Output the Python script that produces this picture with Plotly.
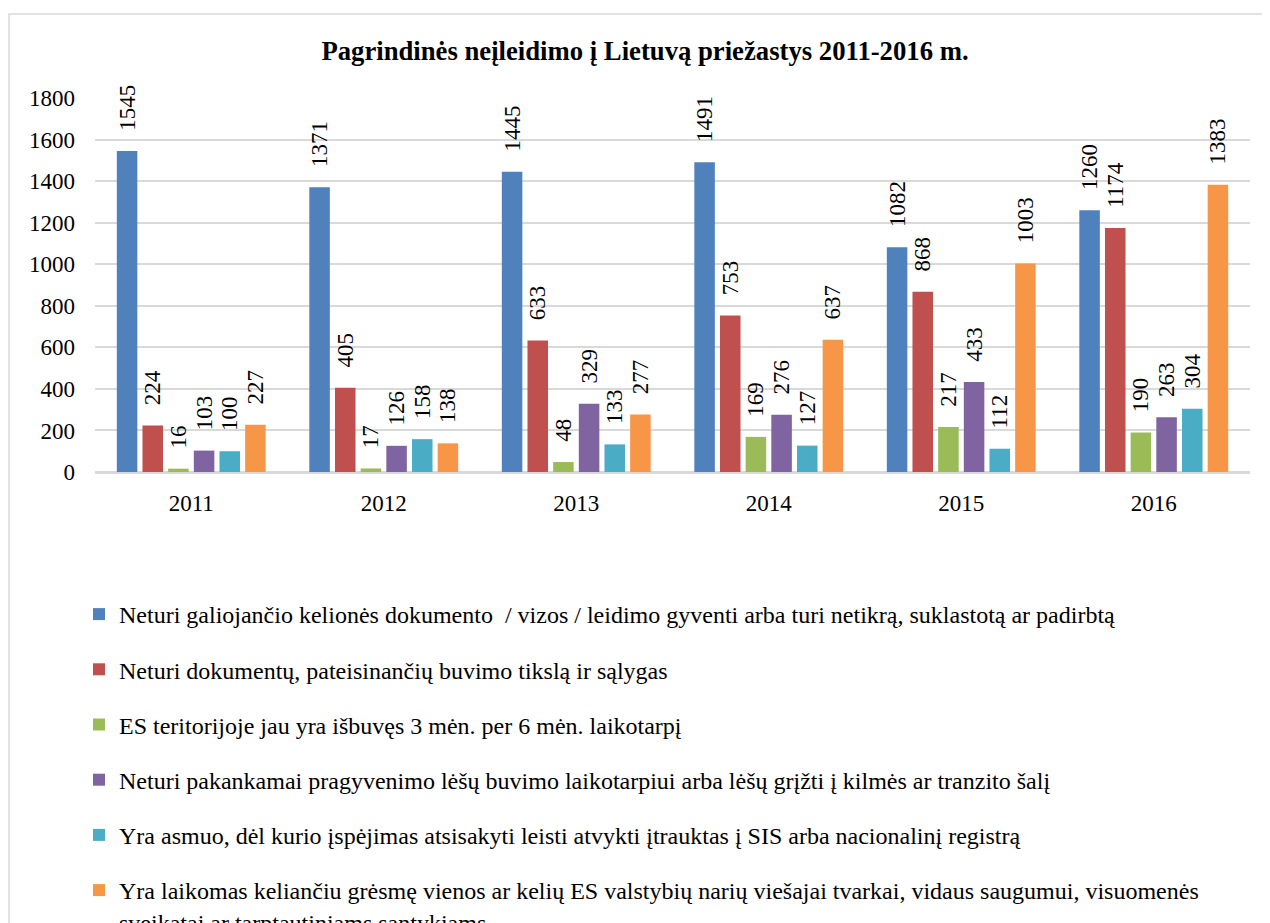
import plotly.graph_objects as go

years = ["2011", "2012", "2013", "2014", "2015", "2016"]
series_names = [
    "Neturi galiojančio kelionės dokumento  / vizos / leidimo gyventi arba turi netikrą, suklastotą ar padirbtą",
    "Neturi dokumentų, pateisinančių buvimo tikslą ir sąlygas",
    "ES teritorijoje jau yra išbuvęs 3 mėn. per 6 mėn. laikotarpį",
    "Neturi pakankamai pragyvenimo lėšų buvimo laikotarpiui arba lėšų grįžti į kilmės ar tranzito šalį",
    "Yra asmuo, dėl kurio įspėjimas atsisakyti leisti atvykti įtrauktas į SIS arba nacionalinį registrą",
    "Yra laikomas keliančiu grėsmę vienos ar kelių ES valstybių narių viešajai tvarkai, vidaus saugumui, visuomenės<br>sveikatai ar tarptautiniams santykiams",
]
s1 = [1545, 1371, 1445, 1491, 1082, 1260]
s2 = [224, 405, 633, 753, 868, 1174]
s3 = [16, 17, 48, 169, 217, 190]
s4 = [103, 126, 329, 276, 433, 263]
s5 = [100, 158, 133, 127, 112, 304]
s6 = [227, 138, 277, 637, 1003, 1383]
colors = ["#4F81BD", "#C0504D", "#9BBB59", "#8064A2", "#4BACC6", "#F79646"]
y_ticks = [0, 200, 400, 600, 800, 1000, 1200, 1400, 1600, 1800]

FONT = "Liberation Serif"
W, H = 1262, 915
L, R, T, B = 87, 20, 90, 451
PW = W - L - R
PH = H - T - B

fig = go.Figure()
for i, (name, vals) in enumerate(zip(series_names, [s1, s2, s3, s4, s5, s6])):
    fig.add_trace(go.Bar(
        x=years, y=vals, name=name,
        marker=dict(color=colors[i], line=dict(width=0)),
        texttemplate="\u00a0\u00a0\u00a0%{y}",
        textposition="outside", textangle=-90, constraintext="none",
        textfont=dict(family=FONT, size=23, color="#000000"),
        cliponaxis=False,
        legendgroup=f"g{i}",
    ))

fig.update_layout(
    width=W, height=H,
    paper_bgcolor="white", plot_bgcolor="white",
    margin=dict(l=L, r=R, t=T, b=B, autoexpand=False),
    barmode="group", bargap=0.2, bargroupgap=0.2,
    font=dict(family=FONT, color="#000000"),
    title=dict(
        text="<b>Pagrindinės neįleidimo į Lietuvą priežastys 2011-2016 m.</b>",
        x=(637 - L) / PW, xanchor="center", xref="paper",
        y=1 - 43 / H, yref="container", yanchor="middle",
        font=dict(family=FONT, size=26.7, color="#000000"),
    ),
    xaxis=dict(
        showgrid=False, showline=True, linecolor="#D9D9D9", linewidth=1.5,
        tickfont=dict(family=FONT, size=23), ticks="", ticklen=0, ticklabelstandoff=10,
    ),
    yaxis=dict(
        range=[0, 1800], tickvals=y_ticks, showgrid=True, gridcolor="#D9D9D9", gridwidth=1.5,
        zeroline=True, zerolinecolor="#D9D9D9", zerolinewidth=1.5,
        showline=False, tickfont=dict(family=FONT, size=23), ticks="", ticklen=0,
        ticklabelstandoff=19,
    ),
    legend=dict(
        orientation="v", x=-16 / PW, xanchor="left", y=-120 / PH, yanchor="top",
        font=dict(family=FONT, size=24, color="#000000"),
        traceorder="grouped", tracegroupgap=21, itemwidth=30, valign="top",
        bgcolor="rgba(0,0,0,0)",
    ),
    showlegend=True,
)

fig.add_shape(type="rect", xref="paper", yref="paper",
              x0=(1 - L) / PW, x1=(1259 - L) / PW,
              y0=-3, y1=(PH + T - 6) / PH,
              line=dict(color="#D9D9D9", width=1.5), fillcolor="rgba(0,0,0,0)", layer="below")

fig.write_html("out.html")
